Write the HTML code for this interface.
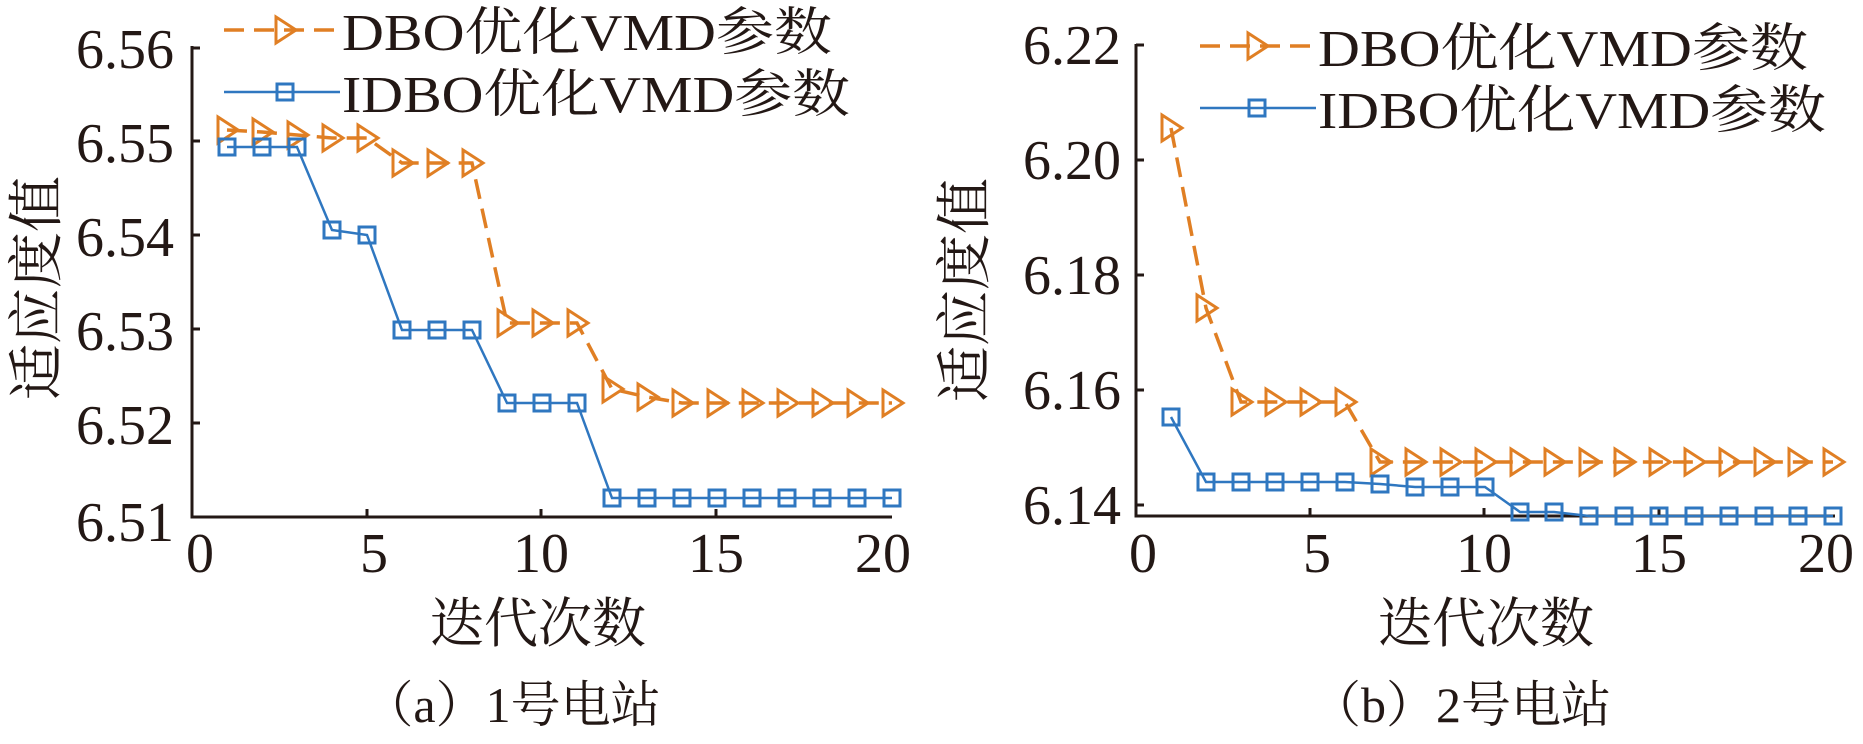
<!DOCTYPE html>
<html><head><meta charset="utf-8"><style>
html,body{margin:0;padding:0;background:#fff;}
svg{display:block;}
svg text{font-family:"Liberation Serif","Times New Roman",Times,"Noto Serif CJK SC",serif !important;fill:#231815;}
</style></head><body>
<svg width="1863" height="744" viewBox="0 0 1863 744" xmlns="http://www.w3.org/2000/svg" font-family="Liberation Serif, Noto Serif CJK SC, serif">
<defs>
<g id="tri"><path d="M-9,-13 L11,0 L-9,13 Z" fill="none" stroke="#e07f24" stroke-width="3"/></g>
<g id="sq"><rect x="-8" y="-8" width="16" height="16" fill="none" stroke="#2f77c0" stroke-width="3"/></g>
</defs>

<!-- LEFT CHART -->
<g>
<line x1="192" y1="46" x2="192" y2="517" stroke="#231815" stroke-width="3"/>
<line x1="190.5" y1="517" x2="892" y2="517" stroke="#231815" stroke-width="3"/>
<g stroke="#231815" stroke-width="3">
<line x1="192" y1="48" x2="200" y2="48"/><line x1="192" y1="141" x2="200" y2="141"/>
<line x1="192" y1="235" x2="200" y2="235"/><line x1="192" y1="329" x2="200" y2="329"/>
<line x1="192" y1="423" x2="200" y2="423"/>
<line x1="367" y1="517" x2="367" y2="509"/><line x1="541" y1="517" x2="541" y2="509"/>
<line x1="716" y1="517" x2="716" y2="509"/>
</g>
<g font-size="56" text-anchor="end">
<text x="174" y="68">6.56</text><text x="174" y="162">6.55</text><text x="174" y="256">6.54</text>
<text x="174" y="350">6.53</text><text x="174" y="444">6.52</text><text x="174" y="541">6.51</text>
</g>
<g font-size="56" text-anchor="middle">
<text x="200" y="572">0</text><text x="374" y="572">5</text><text x="541" y="572">10</text>
<text x="716" y="572">15</text><text x="883" y="572">20</text>
</g>
<text x="538" y="642" font-size="54" text-anchor="middle">迭代次数</text>
<text x="512" y="722" font-size="50" text-anchor="middle">（a）1号电站</text>
<text transform="translate(56,288) rotate(-90)" font-size="56" text-anchor="middle">适应度值</text>

<polyline fill="none" stroke="#e07f24" stroke-width="3.5" stroke-dasharray="20,10"
points="227,130 262,132 297,135 332,138 367,138 402,163 437,163 472,163 507,323 542,323 577,323 612,389 647,397 682,403 717,403 752,403 787,403 822,403 857,403 892,403"/>
<g>
<use href="#tri" x="227" y="130"/><use href="#tri" x="262" y="132"/><use href="#tri" x="297" y="135"/><use href="#tri" x="332" y="138"/><use href="#tri" x="367" y="138"/>
<use href="#tri" x="402" y="163"/><use href="#tri" x="437" y="163"/><use href="#tri" x="472" y="163"/><use href="#tri" x="507" y="323"/><use href="#tri" x="542" y="323"/>
<use href="#tri" x="577" y="323"/><use href="#tri" x="612" y="389"/><use href="#tri" x="647" y="397"/><use href="#tri" x="682" y="403"/><use href="#tri" x="717" y="403"/>
<use href="#tri" x="752" y="403"/><use href="#tri" x="787" y="403"/><use href="#tri" x="822" y="403"/><use href="#tri" x="857" y="403"/><use href="#tri" x="892" y="403"/>
</g>
<polyline fill="none" stroke="#2f77c0" stroke-width="2.5"
points="227,147 262,147 297,147 332,230 367,235 402,330 437,330 472,330 507,403 542,403 577,403 612,498 647,498 682,498 717,498 752,498 787,498 822,498 857,498 892,498"/>
<g>
<use href="#sq" x="227" y="147"/><use href="#sq" x="262" y="147"/><use href="#sq" x="297" y="147"/><use href="#sq" x="332" y="230"/><use href="#sq" x="367" y="235"/>
<use href="#sq" x="402" y="330"/><use href="#sq" x="437" y="330"/><use href="#sq" x="472" y="330"/><use href="#sq" x="507" y="403"/><use href="#sq" x="542" y="403"/>
<use href="#sq" x="577" y="403"/><use href="#sq" x="612" y="498"/><use href="#sq" x="647" y="498"/><use href="#sq" x="682" y="498"/><use href="#sq" x="717" y="498"/>
<use href="#sq" x="752" y="498"/><use href="#sq" x="787" y="498"/><use href="#sq" x="822" y="498"/><use href="#sq" x="857" y="498"/><use href="#sq" x="892" y="498"/>
</g>
<line x1="224" y1="30" x2="340" y2="30" stroke="#e07f24" stroke-width="3.5" stroke-dasharray="20,10"/>
<use href="#tri" x="285" y="30"/>
<line x1="224" y1="92" x2="340" y2="92" stroke="#2f77c0" stroke-width="2.5"/>
<use href="#sq" x="285" y="92"/>
<text x="342" y="50" font-size="52" textLength="490" lengthAdjust="spacingAndGlyphs">DBO优化VMD参数</text>
<text x="342" y="112" font-size="52" textLength="508" lengthAdjust="spacingAndGlyphs">IDBO优化VMD参数</text>
</g>

<!-- RIGHT CHART -->
<g>
<line x1="1136" y1="44" x2="1136" y2="517" stroke="#231815" stroke-width="3"/>
<line x1="1134.5" y1="516" x2="1835" y2="516" stroke="#231815" stroke-width="3"/>
<g stroke="#231815" stroke-width="3">
<line x1="1136" y1="45" x2="1144" y2="45"/><line x1="1136" y1="160" x2="1144" y2="160"/>
<line x1="1136" y1="275" x2="1144" y2="275"/><line x1="1136" y1="390" x2="1144" y2="390"/>
<line x1="1136" y1="505" x2="1144" y2="505"/>
<line x1="1310" y1="516" x2="1310" y2="508"/><line x1="1484" y1="516" x2="1484" y2="508"/>
<line x1="1659" y1="516" x2="1659" y2="508"/>
</g>
<g font-size="56" text-anchor="end">
<text x="1121" y="64">6.22</text><text x="1121" y="179">6.20</text><text x="1121" y="294">6.18</text>
<text x="1121" y="409">6.16</text><text x="1121" y="524">6.14</text>
</g>
<g font-size="56" text-anchor="middle">
<text x="1143" y="572">0</text><text x="1317" y="572">5</text><text x="1484" y="572">10</text>
<text x="1659" y="572">15</text><text x="1826" y="572">20</text>
</g>
<text x="1486" y="642" font-size="54" text-anchor="middle">迭代次数</text>
<text x="1461" y="722" font-size="50" text-anchor="middle">（b）2号电站</text>
<text transform="translate(984,290) rotate(-90)" font-size="56" text-anchor="middle">适应度值</text>

<polyline fill="none" stroke="#e07f24" stroke-width="3.5" stroke-dasharray="20,10"
points="1171,128 1206,308 1241,402 1275,402 1310,402 1345,402 1380,462 1415,462 1450,462 1485,462 1520,462 1554,462 1589,462 1624,462 1659,462 1694,462 1729,462 1764,462 1798,462 1833,462"/>
<g>
<use href="#tri" x="1171" y="128"/><use href="#tri" x="1206" y="308"/><use href="#tri" x="1241" y="402"/><use href="#tri" x="1275" y="402"/><use href="#tri" x="1310" y="402"/>
<use href="#tri" x="1345" y="402"/><use href="#tri" x="1380" y="462"/><use href="#tri" x="1415" y="462"/><use href="#tri" x="1450" y="462"/><use href="#tri" x="1485" y="462"/>
<use href="#tri" x="1520" y="462"/><use href="#tri" x="1554" y="462"/><use href="#tri" x="1589" y="462"/><use href="#tri" x="1624" y="462"/><use href="#tri" x="1659" y="462"/>
<use href="#tri" x="1694" y="462"/><use href="#tri" x="1729" y="462"/><use href="#tri" x="1764" y="462"/><use href="#tri" x="1798" y="462"/><use href="#tri" x="1833" y="462"/>
</g>
<polyline fill="none" stroke="#2f77c0" stroke-width="2.5"
points="1171,417 1206,482 1241,482 1275,482 1310,482 1345,482 1380,484 1415,487 1450,487 1485,487 1520,512 1554,512 1589,516 1624,516 1659,516 1694,516 1729,516 1764,516 1798,516 1833,516"/>
<g>
<use href="#sq" x="1171" y="417"/><use href="#sq" x="1206" y="482"/><use href="#sq" x="1241" y="482"/><use href="#sq" x="1275" y="482"/><use href="#sq" x="1310" y="482"/>
<use href="#sq" x="1345" y="482"/><use href="#sq" x="1380" y="484"/><use href="#sq" x="1415" y="487"/><use href="#sq" x="1450" y="487"/><use href="#sq" x="1485" y="487"/>
<use href="#sq" x="1520" y="512"/><use href="#sq" x="1554" y="512"/><use href="#sq" x="1589" y="516"/><use href="#sq" x="1624" y="516"/><use href="#sq" x="1659" y="516"/>
<use href="#sq" x="1694" y="516"/><use href="#sq" x="1729" y="516"/><use href="#sq" x="1764" y="516"/><use href="#sq" x="1798" y="516"/><use href="#sq" x="1833" y="516"/>
</g>
<line x1="1200" y1="46" x2="1316" y2="46" stroke="#e07f24" stroke-width="3.5" stroke-dasharray="20,10"/>
<use href="#tri" x="1257" y="46"/>
<line x1="1200" y1="108" x2="1316" y2="108" stroke="#2f77c0" stroke-width="2.5"/>
<use href="#sq" x="1257" y="108"/>
<text x="1318" y="66" font-size="52" textLength="490" lengthAdjust="spacingAndGlyphs">DBO优化VMD参数</text>
<text x="1318" y="128" font-size="52" textLength="508" lengthAdjust="spacingAndGlyphs">IDBO优化VMD参数</text>
</g>
</svg>
</body></html>
